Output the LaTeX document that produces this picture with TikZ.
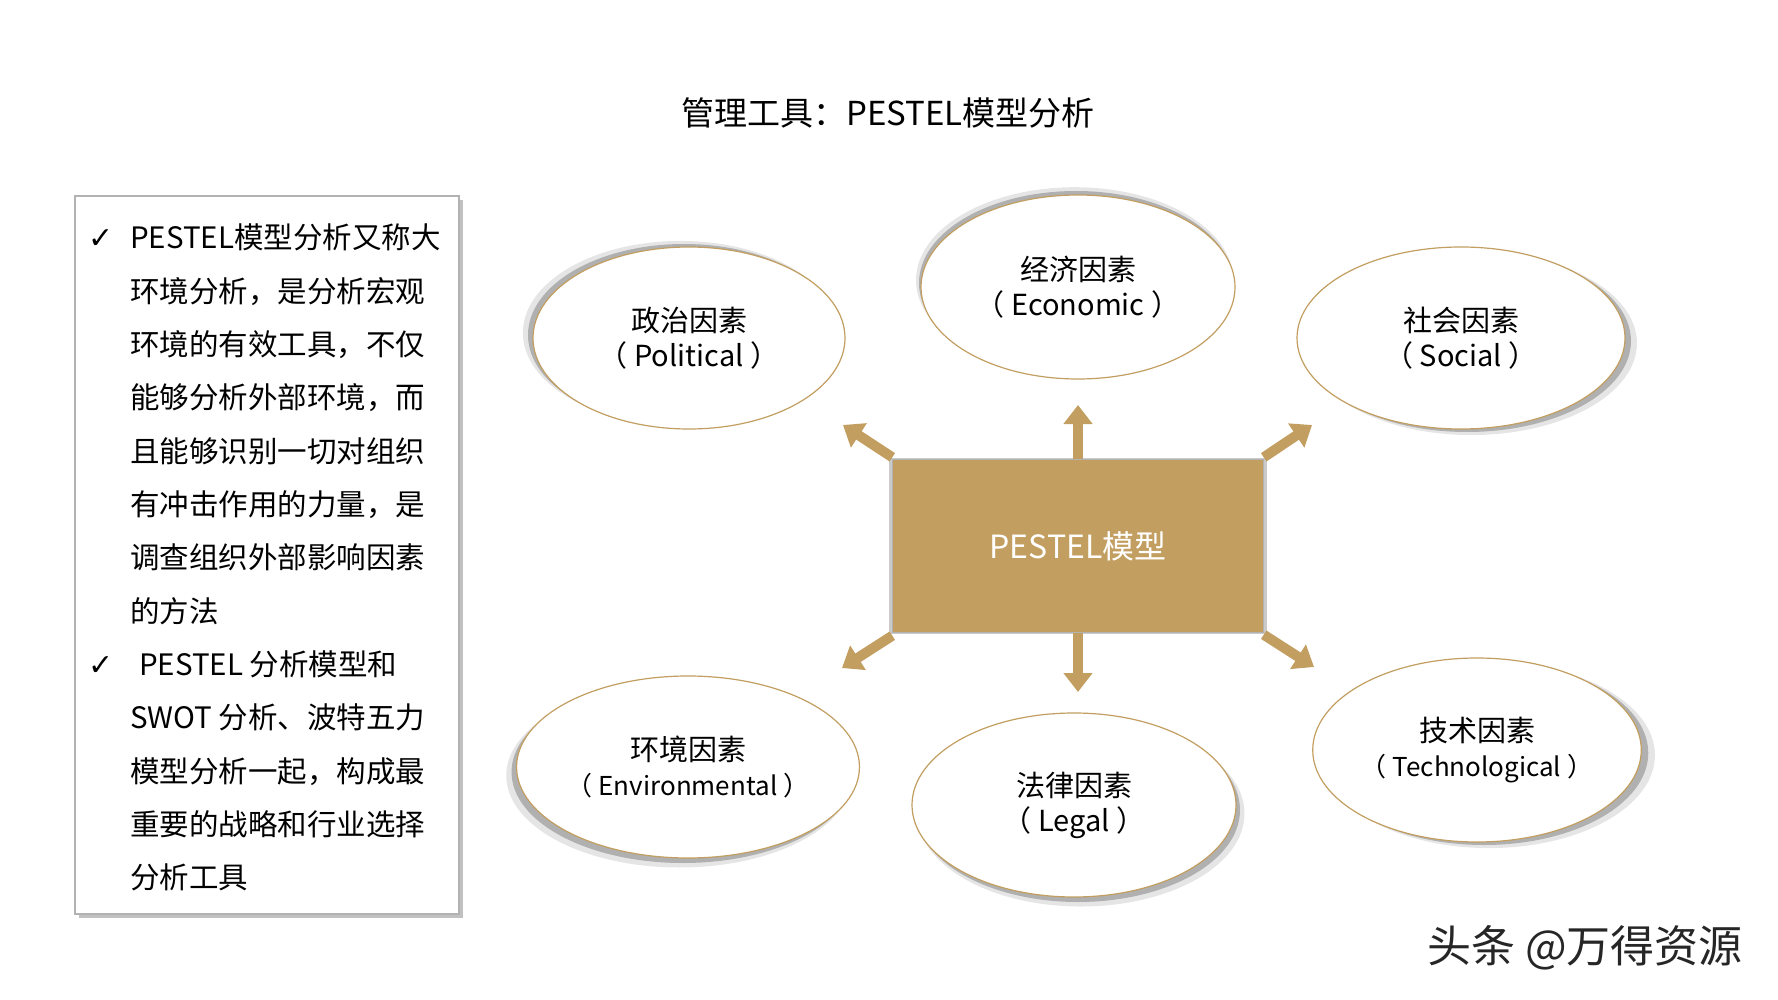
\documentclass[tikz,border=0pt]{standalone}
\usepackage{fontspec}
\setmainfont{Noto Sans CJK SC}
\newfontfamily\symfont{DejaVu Sans}
\usepackage{tikz}
\usetikzlibrary{shapes.geometric, arrows.meta, shadows}
\usepackage{xcolor}
\definecolor{pestan}{RGB}{194,158,96}

\begin{document}
\begin{tikzpicture}[
    x=1pt, y=-1pt,
    factor/.style 2 args={ellipse, draw=pestan, line width=1.2pt, fill=white, inner sep=0pt, align=center,
        font=\fontsize{29}{35}\selectfont,
        general shadow={fill=black!20, shadow xshift=#1*1.7, shadow yshift=#2*1.7, shadow scale=1.01, opacity=.5},
        general shadow={fill=black!45, shadow xshift=#1, shadow yshift=#2, opacity=.6}},
    core/.style={rectangle, draw=black!30, fill=pestan, minimum width=371pt, minimum height=173pt,
        text=white, font=\fontsize{32}{36}\selectfont,
        general shadow={fill=black!35, shadow scale=1.02, opacity=.6}},
    bigarr/.style={-{Triangle[width=28pt, length=19pt]}, line width=10pt, draw=pestan},
    desc/.style={align=left, inner sep=0pt, anchor=north west, font=\fontsize{29.5}{53.3}\selectfont},
    tick/.style={font=\symfont\fontsize{30}{30}\selectfont, inner sep=0pt}
]
\useasboundingbox (0,0) rectangle (1778,1000);

\node[font=\fontsize{33}{40}\selectfont] (title) at (888, 113) {管理工具：PESTEL模型分析};

% left description box
\node[draw=black!30, line width=1.5pt, fill=white, minimum width=384pt, minimum height=718pt,
      general shadow={fill=black!35, shadow xshift=4pt, shadow yshift=-4pt, opacity=.7}]
      (descbox) at (267, 555) {};
\node[desc] (descA) at (130, 224) {PESTEL模型分析又称大\\环境分析，是分析宏观\\环境的有效工具，不仅\\能够分析外部环境，而\\且能够识别一切对组织\\有冲击作用的力量，是\\调查组织外部影响因素\\的方法};
\node[desc] (descB) at (130, 650.5) {\hspace{0.3em}PESTEL 分析模型和\\SWOT 分析、波特五力\\模型分析一起，构成最\\重要的战略和行业选择\\分析工具};
\node[tick] (tickA) at (101, 239) {✓};
\node[tick] (tickB) at (101, 666) {✓};

% centre and factors
\node[core] (pestel) at (1078, 546) {PESTEL模型};

\node[factor={-5pt}{3pt}, minimum width=312pt, minimum height=182pt] (pol) at (689, 338) {政治因素\\（ Political ）};
\node[factor={-2pt}{4pt}, minimum width=314pt, minimum height=184pt] (eco) at (1078, 287) {经济因素\\（ Economic ）};
\node[factor={6pt}{-3pt}, minimum width=328pt, minimum height=182pt] (soc) at (1461, 338) {社会因素\\（ Social ）};
\node[factor={-5pt}{-5pt}, minimum width=340pt, minimum height=182pt] (env) at (688, 767) {环境因素\\{\fontsize{26}{30}\selectfont（ Environmental ）}};
\node[factor={4pt}{-5pt}, minimum width=324pt, minimum height=184pt] (leg) at (1074, 805) {法律因素\\（ Legal ）};
\node[factor={7pt}{-3pt}, minimum width=328pt, minimum height=184pt] (tec) at (1477, 750) {技术因素\\{\fontsize{26}{30}\selectfont（ Technological ）}};

\coordinate (tipN) at (1078, 405);
\coordinate (tipS) at (1078, 692);
\coordinate (tipNW) at (843, 425);
\coordinate (tipNE) at (1312, 425);
\coordinate (tipSW) at (842, 668);
\coordinate (tipSE) at (1314, 667);

\draw[bigarr] (pestel.north) -- (tipN);
\draw[bigarr] (pestel.south) -- (tipS);
\draw[bigarr] ([shift={(0,-2)}]pestel.north west) -- (tipNW);
\draw[bigarr] ([shift={(0,-2)}]pestel.north east) -- (tipNE);
\draw[bigarr] ([shift={(0,3)}]pestel.south west) -- (tipSW);
\draw[bigarr] ([shift={(0,2)}]pestel.south east) -- (tipSE);

\node[font=\fontsize{44}{48}\selectfont, text=black!85] (mark) at (1585, 948) {头条 @万得资源};
\end{tikzpicture}
\end{document}
